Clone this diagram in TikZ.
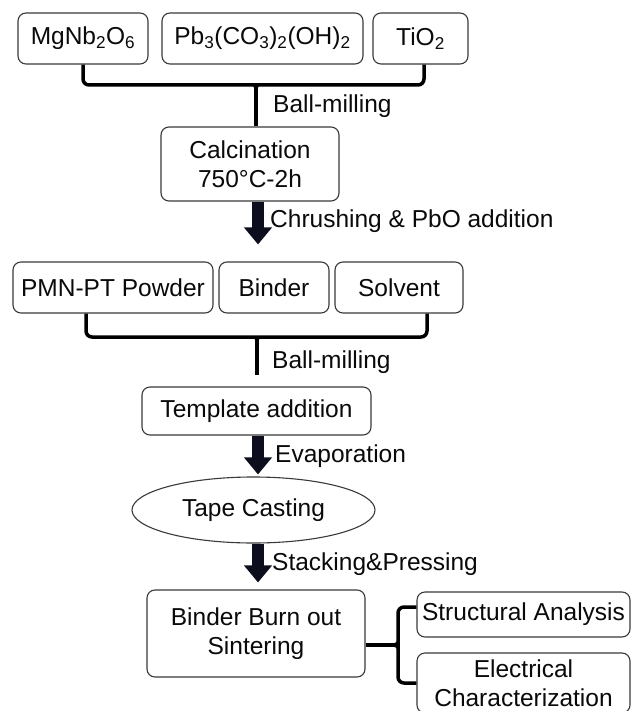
\documentclass[tikz,border=0pt]{standalone}
\usepackage{fontspec}
\setmainfont{Liberation Sans}
\usetikzlibrary{arrows.meta,shapes.geometric}

\definecolor{edge}{RGB}{58,58,58}
\definecolor{txt}{RGB}{10,10,10}
\definecolor{arr}{RGB}{12,14,30}

\tikzset{
  proc/.style={draw=edge, line width=1.1pt, rounded corners=8pt, inner sep=0pt, align=center, text=txt},
  oval/.style={ellipse, draw=edge, line width=1.1pt, inner sep=0pt, text=txt},
  brace/.style={line width=3.5pt, draw=black, rounded corners=6pt},
  flow/.style={line width=12pt, draw=arr, -{Triangle[width=27pt,length=17pt]}},
  lbl/.style={anchor=base west, inner sep=0pt, text=txt},
  % small fillet where a bracket stem meets its bar
  cusp/.pic={\fill[black] (-7,0) .. controls (-1.5,0) and (-1.5,3) .. (-1.5,9)
               -- (1.5,9) .. controls (1.5,3) and (1.5,0) .. (7,0) -- cycle;}
}

\begin{document}
\begin{tikzpicture}[x=1pt, y=-1pt, font=\fontsize{24.5}{28.5}\selectfont]
\useasboundingbox (0,0) rectangle (631,711);
\fill[white] (0,0) rectangle (631,711);

% raw materials
\node[proc, minimum width=130pt, minimum height=51pt] (mg) at (83,38.5) {MgNb\textsubscript{2}O\textsubscript{6}};
\node[proc, minimum width=201pt, minimum height=51pt] (pb) at (262.5,38.5) {Pb\textsubscript{3}(CO\textsubscript{3})\textsubscript{2}(OH)\textsubscript{2}};
\node[proc, minimum width=95pt, minimum height=51pt] (ti) at (420.5,38.5) {TiO\textsubscript{2}};

% calcination
\node[proc, minimum width=178pt, minimum height=74pt] (calc) at (250,164) {Calcination\\750°C-2h};

% slurry components
\node[proc, minimum width=200pt, minimum height=51pt] (pmn) at (113,287.5) {PMN-PT Powder};
\node[proc, minimum width=110pt, minimum height=51pt] (binder) at (274,287.5) {Binder};
\node[proc, minimum width=128pt, minimum height=51pt] (solv) at (399,287.5) {Solvent};

% forming
\node[proc, minimum width=229pt, minimum height=48pt] (tmpl) at (256.5,411) {Template addition};
\node[oval, minimum width=243pt, minimum height=66pt] (tape) at (253.5,510) {Tape Casting};
\node[proc, minimum width=218pt, minimum height=87pt] (bbo) at (256,633.5) {Binder Burn out\\Sintering};

% characterization
\node[proc, minimum width=213pt, minimum height=45pt] (struct) at (523.5,614.5) {Structural Analysis};
\node[proc, minimum width=213pt, minimum height=60pt] (elec) at (523.5,683) {Electrical\\Characterization};

% first mixing bracket
\coordinate (j1) at (256,85);
\draw[brace] (mg.south) |- (j1) -| ([xshift=3.5pt]ti.south);
\draw[brace, rounded corners=0pt] (j1) -- (calc.north -| j1);
\pic at (j1) {cusp};
\node[lbl] (bm1) at (273,113) {Ball-milling};

% calcination to slurry
\draw[flow, shorten >=17pt] (calc.south -| 258,0) -- (binder.north -| 258,0);
\node[lbl] (chr) at (270,228) {Chrushing \& PbO addition};

% second mixing bracket
\coordinate (j2) at (257,337);
\coordinate (s2) at (257,375);
\draw[brace] ([xshift=-27pt]pmn.south) |- (j2) -| ([xshift=28pt]solv.south);
\draw[brace, rounded corners=0pt] (j2) -- (s2);
\pic at (j2) {cusp};
\node[lbl] (bm2) at (272,368) {Ball-milling};

% casting steps
\draw[flow, shorten >=2pt] (tmpl.south -| 258,0) -- (tape.north -| 258,0);
\node[lbl] (evap) at (275,462) {Evaporation};
\draw[flow, shorten >=7pt] (tape.south -| 258,0) -- (bbo.north -| 258,0);
\node[lbl] (stack) at (272,570) {Stacking\&Pressing};

% analysis brace
\coordinate (j3) at (398,645);
\draw[brace, rounded corners=0pt] (bbo.east |- j3) -- (j3);
\draw[brace] ([yshift=7.5pt]struct.west) -| (j3) |- (elec.west);
\fill[black] (398,636) .. controls (398,643.5) and (395,643.5) .. (389,643.5)
  -- (389,646.5) .. controls (395,646.5) and (398,646.5) .. (398,654) -- cycle;
\end{tikzpicture}
\end{document}
